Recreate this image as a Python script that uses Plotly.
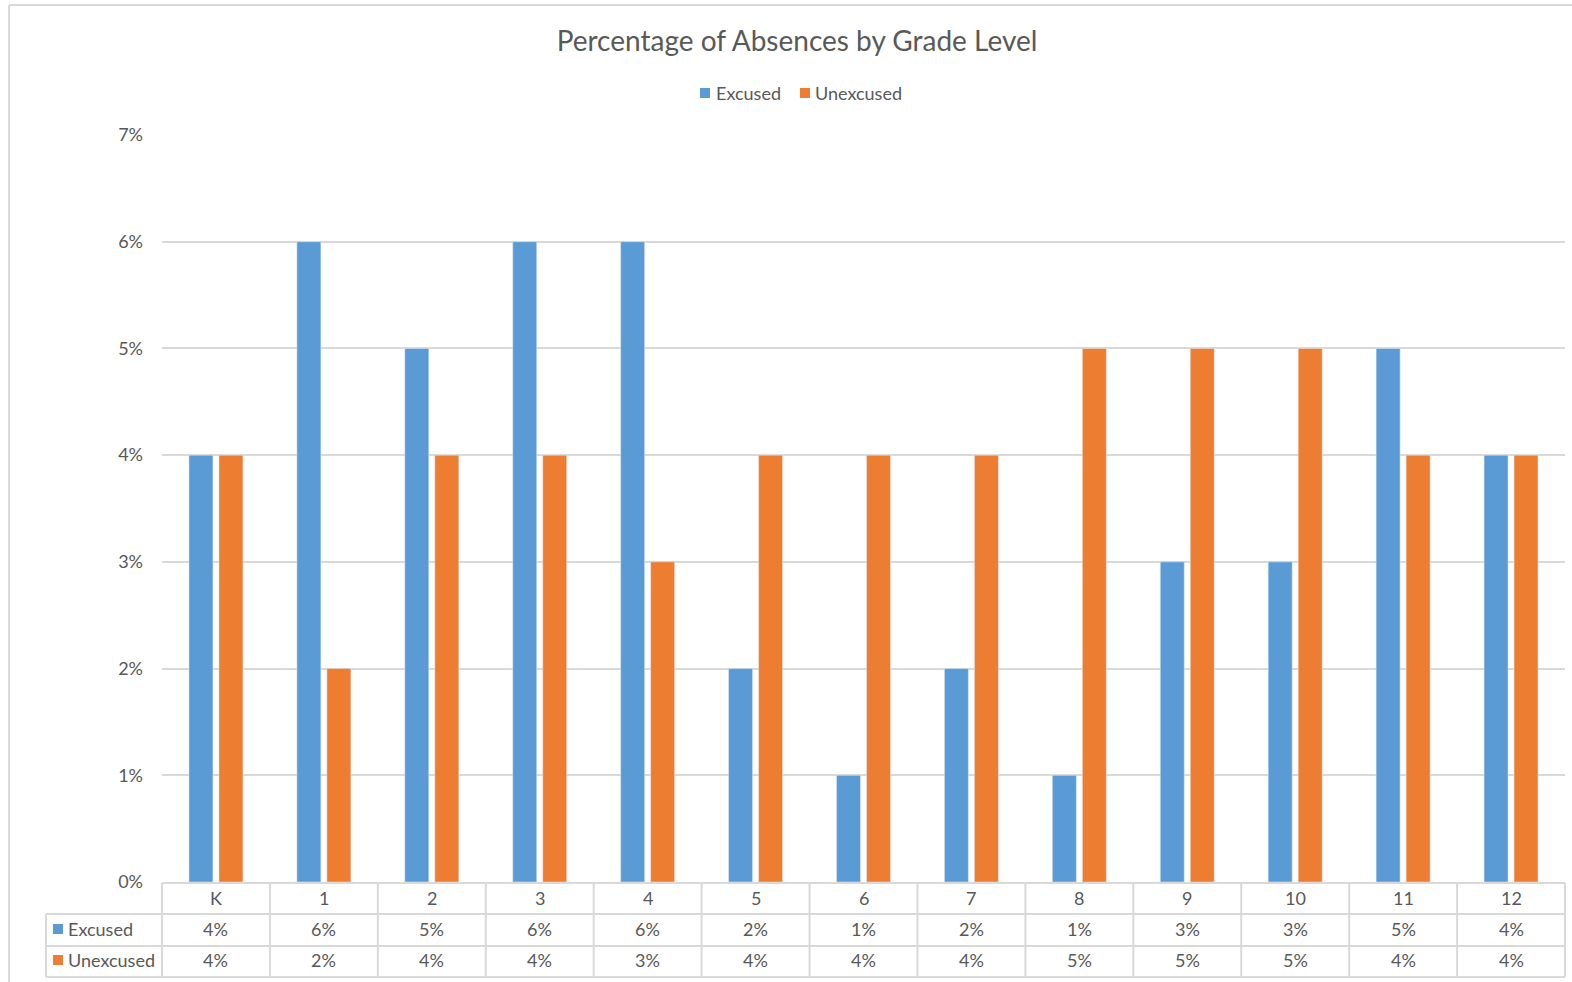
import plotly.graph_objects as go

# Attendance data by grade
grades = ["K", "1", "2", "3", "4", "5", "6", "7", "8", "9", "10", "11", "12"]
excused = [0.04, 0.06, 0.05, 0.06, 0.06, 0.02, 0.01, 0.02, 0.01, 0.03, 0.03, 0.05, 0.04]
unexcused = [0.04, 0.02, 0.04, 0.04, 0.03, 0.04, 0.04, 0.04, 0.05, 0.05, 0.05, 0.04, 0.04]
series_names = ["Excused", "Unexcused"]

BLUE = "#5b9bd5"
ORANGE = "#ed7d31"
TEXT = "#595959"
LINE = "#d9d9d9"
FONT = "Lato"
FS = 18

W, H = 1572, 982
L, R, T, B = 162, 1565, 135, 882  # plot area in pixels


def px_x(p):
    return (p - L) / (R - L)


def px_y(p):
    return (B - p) / (B - T)


fig = go.Figure()
fig.add_trace(go.Bar(name=series_names[0], x=grades, y=excused, marker_color=BLUE))
fig.add_trace(go.Bar(name=series_names[1], x=grades, y=unexcused, marker_color=ORANGE))

shapes = []
annotations = []


def hline(y, x0, x1):
    shapes.append(dict(type="line", xref="paper", yref="paper",
                       x0=px_x(x0), x1=px_x(x1), y0=px_y(y), y1=px_y(y),
                       line=dict(color=LINE, width=2)))


def vline(x, y0, y1):
    shapes.append(dict(type="line", xref="paper", yref="paper",
                       x0=px_x(x), x1=px_x(x), y0=px_y(y0), y1=px_y(y1),
                       line=dict(color=LINE, width=2)))


def key(color, xp, yp, label, tx):
    shapes.append(dict(type="rect", xref="paper", yref="paper",
                       x0=px_x(xp), x1=px_x(xp + 10), y0=px_y(yp - 5), y1=px_y(yp + 5),
                       fillcolor=color, line=dict(width=0)))
    annotations.append(dict(x=px_x(tx), xref="paper", y=px_y(yp), yref="paper",
                            text=label, showarrow=False,
                            font=dict(family=FONT, size=FS, color=TEXT),
                            xanchor="left", yanchor="middle"))


# Data table grid under the plot
row_top, row1, row2, row_bot = 883, 914, 946, 977
tbl_left = 46
hline(row_top, L, R)
hline(row1, tbl_left, R)
hline(row2, tbl_left, R)
hline(row_bot, tbl_left, R)
vline(tbl_left, row1, row_bot)
n = len(grades)
for k in range(n + 1):
    xp = L + (R - L) * k / n
    vline(xp, row_top, row_bot)

# Chart frame
hline(5, 9, W + 5)
vline(9, 5, H + 5)

# Table cell text
for g, e, u in zip(grades, excused, unexcused):
    for txt, yp in ((g, 898), (f"{e:.0%}", 929), (f"{u:.0%}", 960)):
        annotations.append(dict(x=g, xref="x", y=px_y(yp), yref="paper",
                                text=txt, showarrow=False,
                                font=dict(family=FONT, size=FS, color=TEXT),
                                xanchor="center", yanchor="middle"))

# Row labels with series keys
key(BLUE, 53, 929, series_names[0], 66)
key(ORANGE, 53, 960, series_names[1], 66)

# Legend above the plot
key(BLUE, 700, 93, series_names[0], 714)
key(ORANGE, 800, 93, series_names[1], 813)

fig.update_layout(
    width=W, height=H,
    margin=dict(l=L, r=W - R, t=T, b=H - B),
    paper_bgcolor="white", plot_bgcolor="white",
    title=dict(text="Percentage of Absences by Grade Level",
               x=797 / W, xanchor="center", y=1 - 41 / H, yanchor="middle",
               font=dict(family=FONT, size=28, color=TEXT)),
    showlegend=False,
    bargap=0.444, bargroupgap=0.2,
    font=dict(family=FONT, color=TEXT),
    shapes=shapes,
    annotations=annotations,
)
fig.update_xaxes(showticklabels=False, showgrid=False, zeroline=False,
                 showline=False, ticks="")
fig.update_yaxes(range=[0, 0.07], dtick=0.01, tickformat=".0%",
                 showgrid=True, gridcolor=LINE, gridwidth=1.5,
                 zeroline=False, showline=False, ticks="",
                 ticklabelstandoff=18,
                 tickfont=dict(family=FONT, size=FS, color=TEXT))

fig.write_html("out.html")
